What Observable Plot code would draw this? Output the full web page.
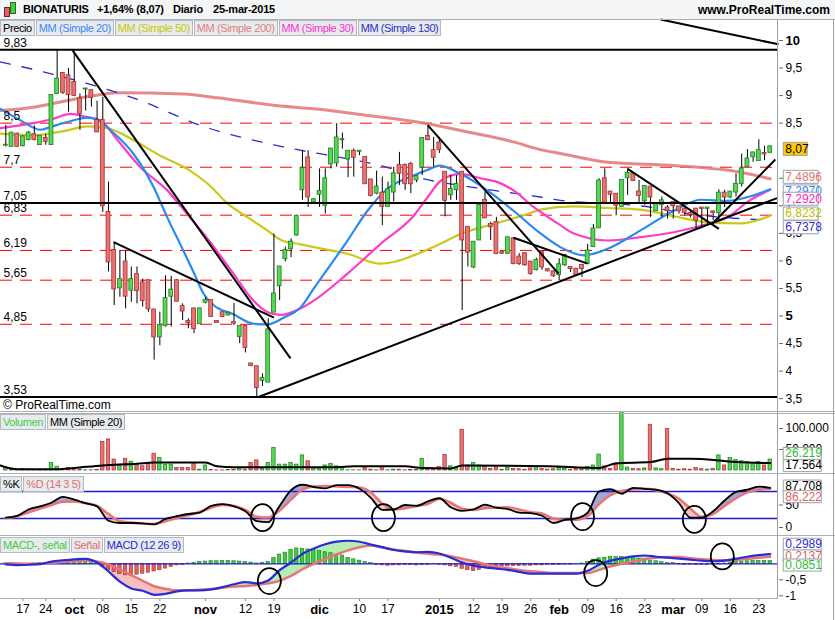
<!DOCTYPE html>
<html><head><meta charset="utf-8">
<script src="https://cdn.jsdelivr.net/npm/d3@7"></script>
<script src="https://cdn.jsdelivr.net/npm/@observablehq/plot@0.6"></script>
<style>
body{margin:0;background:#fff;}
#root{position:relative;width:835px;height:620px;overflow:hidden;background:#fff;font-family:"Liberation Sans",Arial,sans-serif;font-size:12px;color:#000;}
.abs{position:absolute;}
.row{position:absolute;left:0;display:flex;}
.tab{height:14px;line-height:14px;padding:0 2px;background:#e8ebee;border:1px solid #b4bac0;font-size:11px;letter-spacing:-0.4px;white-space:nowrap;margin-right:1px;}
.hl{position:absolute;left:0;width:835px;height:1px;background:#aab0b7;}
.hd{position:absolute;top:3px;font-weight:bold;font-size:11px;letter-spacing:-0.2px;white-space:nowrap;}
</style></head><body><div id="root">
<div class="abs" style="left:0;top:0;width:835px;height:19px;background:#f3f5f7;"></div>
<div class="abs" style="left:4px;top:7px;width:4px;height:8px;background:#e06060;border:1px solid #802020;"></div>
<div class="abs" style="left:10px;top:2px;width:4px;height:10px;background:#44cc44;border:1px solid #207020;"></div>
<div class="hd" style="left:23px;">BIONATURIS</div>
<div class="hd" style="left:97px;">+1,64% (8,07)</div>
<div class="hd" style="left:173px;">Diario</div>
<div class="hd" style="left:213px;">25-mar-2015</div>
<div class="abs" style="right:5px;top:3px;font-weight:bold;font-size:12px;">www.ProRealTime.com</div>
</div>
<script>
// ---------- DATA ----------
const openP  = [8.10,8.08,8.30,8.09,8.20,8.29,8.11,8.22,8.11,9.04, 9.40,9.36,9.24,8.94,9.12,9.09,8.55,8.55,6.88,6.19,
 5.51,5.98,5.47,5.75,5.60,5.64,5.11,4.62,4.83,5.36, 5.64,5.17,4.90,5.13,4.86,5.25,5.28,4.90,5.06,5.02,
 4.88,4.63,4.81,4.13,4.08,3.83,3.80,5.07,5.55,6.04, 6.22,6.47,7.29,7.87,7.07,7.21,7.01,7.76,7.78,8.20,
 7.85,7.99,7.99,7.88,7.47,7.23,7.23,6.99,7.25,7.73, 7.73,7.75,7.47,7.70,8.26,8.00,8.14,7.61,7.20,7.29,
 7.61,6.61,5.89,6.38,7.10,6.66,6.70,6.15,6.14,6.40, 6.07,6.13,5.98,5.84,6.16,5.84,5.80,5.75,5.93,5.88,
 5.85,5.92,5.95,6.26,6.60,7.49,7.25,7.21,6.99,7.51, 7.58,7.25,7.09,7.34,6.91,7.02,6.96,7.06,6.98,6.94,
 6.86,6.94,6.96,6.95,6.89,6.88,7.23,7.16,7.25,7.40, 7.71,7.89,7.82,7.95,7.97];
const highP  = [8.46,8.33,8.32,8.27,8.35,8.45,8.27,8.30,9.00,9.82, 9.42,9.49,9.79,9.03,9.12,9.10,8.90,8.97,7.43,6.34,
 6.19,6.19,5.89,5.89,5.67,5.64,5.11,5.07,5.73,5.72, 5.66,5.22,4.95,5.13,5.13,5.34,5.28,4.91,5.07,5.07,
 5.23,4.81,4.81,4.14,4.08,3.95,4.95,6.49,5.89,6.25, 6.40,6.83,8.00,8.00,7.13,7.67,7.67,8.04,8.49,8.32,
 7.99,8.03,7.99,7.88,7.47,7.63,7.52,7.43,7.70,7.97, 7.76,7.79,7.55,8.22,8.46,8.24,8.24,7.61,7.55,7.55,
 7.61,6.61,6.34,7.01,7.25,6.70,6.79,6.17,6.42,6.42, 6.13,6.15,5.98,6.05,6.16,5.86,5.82,6.04,6.12,5.88,
 5.85,5.92,6.30,6.66,7.49,7.67,7.25,7.21,7.46,7.67, 7.60,7.46,7.35,7.34,7.06,7.16,7.00,7.06,6.98,6.96,
 6.90,6.94,6.96,6.96,6.90,7.29,7.28,7.25,7.58,7.94, 8.02,7.97,8.20,8.08,8.08];
const lowP   = [8.07,8.07,8.07,8.07,8.18,8.18,8.10,8.10,8.10,9.04, 9.02,8.70,8.98,8.37,8.72,8.79,8.33,6.88,5.80,5.19,
 5.34,5.13,5.25,5.22,5.16,5.07,4.20,4.46,4.80,4.80, 5.25,4.92,4.77,4.68,4.86,5.22,4.98,4.87,4.97,5.00,
 4.83,4.50,4.33,4.08,3.53,3.72,3.80,5.07,5.28,5.98, 6.06,6.45,7.10,6.97,7.04,6.97,6.85,7.67,7.70,8.03,
 7.51,7.52,7.91,7.40,7.16,7.20,6.64,6.99,7.07,7.37, 7.28,7.22,7.42,7.55,8.18,7.70,7.95,6.80,7.10,7.10,
 5.10,5.89,5.86,6.38,6.78,6.37,6.13,6.12,6.12,5.93, 5.92,5.90,5.74,5.82,5.83,5.80,5.70,5.64,5.90,5.79,
 5.72,5.70,5.95,6.25,6.60,7.07,7.04,6.82,6.98,7.19, 7.45,7.04,7.01,6.79,6.91,6.79,6.76,6.76,6.85,6.82,
 6.78,6.58,6.62,6.67,6.73,6.73,6.97,7.13,7.16,7.34, 7.70,7.79,7.82,7.82,7.97];
const closeP = [8.10,8.32,8.08,8.25,8.32,8.20,8.26,8.17,9.00,9.30, 9.06,9.02,9.00,8.68,9.12,8.97,8.34,7.00,5.98,5.49,
 5.66,5.36,5.66,5.46,5.28,5.13,4.62,4.83,5.32,5.47, 5.27,5.09,4.88,4.77,5.13,5.28,4.99,4.88,4.99,5.05,
 4.87,4.81,4.43,4.10,3.70,3.87,4.75,5.40,5.89,6.19, 6.34,6.81,7.68,7.16,7.11,7.26,7.49,8.03,8.23,8.20,
 7.99,7.88,7.99,7.40,7.19,7.34,6.99,7.29,7.58,7.59, 7.40,7.40,7.53,8.22,8.20,7.88,8.02,7.10,7.30,7.39,
 6.38,6.16,6.34,7.01,6.78,6.62,6.13,6.14,6.42,5.95, 5.95,5.93,5.77,6.01,5.89,5.82,5.73,5.93,6.10,5.86,
 5.75,5.86,6.18,6.58,7.45,7.07,7.21,7.01,7.46,7.59, 7.46,7.19,7.35,7.16,7.02,7.09,6.91,7.00,6.91,6.88,
 6.84,6.74,6.95,6.96,6.88,7.23,7.16,7.25,7.39,7.67, 7.85,7.96,8.00,7.94,8.07];
// volume in thousands
const volume = [6,1,1,4,1,1,1,0.5,18,9, 1,6,6,2,0.5,0.5,1,68,74,26, 14,28,21,12,10,17,40,30,14,14,
 6,6,6,17,2,12,1,0.3,0.3,1, 2,5,2,18,24,5,18,54,14,14, 18,14,36,22,5,5,12,16,10,6,
 0.5,0.3,0.3,6,2,0.5,9,0.5,2,2, 0.5,1,1,28,4,3,8,37,10,6, 97,12,18,12,8,4,8,2,6,4,
 3,2,5,8,4,2,3,6,4,2, 5,3,8,12,38,10,4,13,145,7, 4,3,5,109,5,3,99,4,2,3,
 2,6,3,2,4,36,12,30,25,22, 20,18,20,12,26.219];
const volMaIdx = [-0.93,2,9,12,17,23,26,35,37,40,58,61,70,73,78,80,95,104,107,113,116,120,125,128,134];
const volMaVal = [12,3,3,6,12,16,19,19,10,8,8,10,10,6,5,12,10,6,17,20,28,28,24,20,17.564];
const volTicks = [50, 100];

const sma20Idx = [-0.93,2.6,6.1,7.8,10.8,14.3,16.1,18.4,22.4,25.9,27.1,28.3,30.6,32.9,34.7,36.4,39.9,43.4,45.9,48.7,51.7,54,59.9,63.4,66.9,71.5,74.4,76,79.7,84.4,89,93.7,97.2,101.3,105.5,111.2,117.1,121.8,126.5,131.1,134];
const sma20Val = [8.76,8.55,8.38,8.43,8.52,8.60,8.56,8.37,7.94,7.34,7.07,6.79,6.30,5.80,5.40,5.20,5.03,4.86,4.85,4.97,5.16,5.50,6.37,6.91,7.31,7.55,7.67,7.73,7.58,7.28,6.91,6.50,6.25,6.10,6.22,6.55,6.91,7.11,7.09,7.19,7.30];
const sma30Idx = [-0.93,4.9,8.4,11.3,14.3,16.6,19.6,23.6,28.3,31.8,35.4,39.9,43.4,45.9,48.2,51.7,54,59.9,65.7,71.5,73.9,76.2,79.7,83.2,86.2,89,92.5,97.2,99.5,105.5,111.2,117.1,123,126.5,130,134];
const sma30Val = [8.41,8.50,8.58,8.67,8.61,8.55,8.19,7.70,7.28,6.85,6.40,5.77,5.28,5.07,5.02,5.14,5.28,5.77,6.31,6.82,7.15,7.45,7.58,7.50,7.43,7.28,6.98,6.65,6.50,6.37,6.43,6.52,6.67,6.79,7.07,7.29];
const sma50Idx = [-0.93,4.9,10.8,14.3,17.8,22.4,27.1,31.8,35.4,38.9,42.4,45.9,48.2,51.7,54,59.9,65.7,68,71.5,76.2,79.7,85.5,91.5,93.7,99.5,105.5,111.2,117.1,123,128.8,134];
const sma50Val = [8.31,8.28,8.37,8.44,8.41,8.19,7.91,7.67,7.40,7.04,6.79,6.55,6.38,6.30,6.25,6.13,5.95,5.98,6.10,6.31,6.49,6.67,6.85,6.93,6.99,6.96,6.93,6.81,6.70,6.68,6.82];
const sma130Idx = [-0.93,7.8,23.6,34.1,48.2,56.9,65.7,73.2,81,85.5,93.7,97.2,106,111.2,120,130,134];
const sma130Val = [9.61,9.40,8.91,8.46,8.08,7.91,7.73,7.49,7.35,7.28,7.16,7.10,7.04,7.00,6.85,6.76,6.74];
const sma200Idx = [-0.93,4.9,10.8,15.4,19.6,31.2,37.1,48.2,54,63.4,73.9,81,89,93.7,97.2,105.5,117.1,128.8,134];
const sma200Val = [8.73,8.79,8.91,9.00,9.05,9.03,8.96,8.81,8.76,8.64,8.49,8.34,8.16,8.02,7.95,7.79,7.73,7.61,7.49];

const blackLevels = [9.83, 7.05, 3.53];
const redLevels = [8.5, 7.7, 6.83, 6.19, 5.65, 4.85];
const trendFromI = [11.7, 18.9, 44.3, 74.0, 89.0, 109.0, 123.8, 114.8];
const trendFromP = [9.82, 6.34, 3.53, 8.46, 6.42, 7.67, 6.67, 10.38];
const trendToI   = [49.9, 47.0, 135.2, 96.9, 102.0, 125.0, 134.9, 135.45];
const trendToP   = [4.23, 4.97, 7.14, 5.77, 5.95, 6.58, 7.84, 9.93];

const priceTicks = [3.5,4,4.5,5,5.5,6,6.5,7,7.5,8.5,9,9.5,10];
const priceTicksBold = [5, 10];
const lastLabels = [8.07, 7.4896, 7.2970, 7.2920, 6.8232, 6.7378];

const oscIdx = [0,2,4,6,8,10,12,14,16,18,20,22,24,26,28,30,32,34,36,38,40,42,44,46,48,50,52,54,56,58,60,62,64,66,68,70,72,74,76,78,80,82,84,86,88,90,92,94,96,98,100,102,104,106,108,110,112,114,116,118,120,122,124,126,128,130,132,134];
const stochK = [22,26,40,47,55,68,62,54,47,15, 10,10,9,7,19,25,30,33,48,52, 47,36,14,12,48,83,95,90,87,94, 94,86,66,39,40,50,48,58,65,45, 37,40,51,44,41,33,32,26,10,17, 20,33,80,85,75,88,86,84,76,54, 22,22,36,60,79,84,91,88];
const stochD = [21,25,34,42,50,57,58,54,48,30, 14,11,9,8,14,21,27,35,44,50, 48,39,24,22,38,62,84,91,92,91, 90,89,78,53,40,43,48,52,64,55, 42,39,43,44,45,40,34,31,20,17, 17,25,52,72,81,85,86,83,76,64, 42,24,30,48,65,78,84,86];
const stochLast = [87.708, 86.222];
const stochLevels = [20, 80];
const stochTicks = [0, 50];
const stochCircI = [45, 66.2, 101.1, 120.7];
const stochCircV = [22, 22, 24, 18];

const macdLine = [-0.02,-0.04,-0.03,-0.01,0.07,0.11,0.14,0.155,0.04,-0.24, -0.56,-0.77,-0.84,-0.97,-0.94,-0.86,-0.83,-0.83,-0.80,-0.73,
 -0.64,-0.57,-0.61,-0.52,-0.20,0.04,0.31,0.48,0.61,0.69, 0.72,0.69,0.60,0.52,0.43,0.39,0.36,0.37,0.32,0.19,
 0.04,-0.06,-0.11,-0.15,-0.19,-0.25,-0.31,-0.31,-0.31,-0.31, -0.31,-0.22,-0.03,0.10,0.17,0.23,0.26,0.22,0.19,0.16,
 0.13,0.10,0.08,0.10,0.16,0.22,0.27,0.30];
const macdSignal = [0.02,0.01,0.0,0.0,0.03,0.06,0.09,0.11,0.07,-0.02, -0.18,-0.35,-0.53,-0.70,-0.78,-0.83,-0.83,-0.81,-0.79,-0.75,
 -0.71,-0.69,-0.66,-0.61,-0.53,-0.38,-0.17,0.0,0.15,0.29, 0.42,0.52,0.57,0.51,0.45,0.40,0.35,0.31,0.29,0.24,
 0.16,0.08,-0.01,-0.09,-0.14,-0.19,-0.23,-0.26,-0.29,-0.29, -0.29,-0.29,-0.19,-0.08,0.0,0.07,0.14,0.19,0.21,0.21,
 0.17,0.14,0.12,0.11,0.12,0.15,0.19,0.22];
const macdHist = [0.01,0.0,-0.01,0.0,0.0,0.01,0.02,0.03, 0.06,0.08,0.09,0.1,0.1,0.09,0.07,0.05, 0.01,
 -0.1,-0.2,-0.26,-0.32,-0.36,-0.37,-0.34,-0.31,-0.28,-0.24,-0.2,-0.15,-0.1,-0.05,-0.03,
 0.01,0.03, 0.06,0.07,0.08,0.08,0.09,0.09,0.08,0.07,0.06,0.04, 0.01,0.02,
 0.06,0.18,0.29,0.35,0.43,0.48,0.47,0.45,0.43,0.4,0.36,0.33,0.29,0.26,0.18,0.14,0.1, 0.05,0.02,
 -0.04,-0.05,-0.06,-0.05,-0.05,-0.04,-0.04,-0.05,-0.04,-0.03, -0.01,-0.03,
 -0.05,-0.08,-0.1,-0.16,-0.2,-0.23,-0.19,-0.13,-0.1,-0.09,-0.08,-0.08,-0.07,-0.07,-0.06,-0.06,-0.05,-0.05,-0.04,-0.04,-0.03,
 -0.02,-0.02,-0.01,0.01,0.05,
 0.13,0.17,0.19,0.21,0.21,0.21,0.2,0.18,0.16,0.13,0.1,0.08,0.05,0.03,0.02,
 -0.02,-0.03,-0.03,-0.04,-0.03,-0.03,-0.02,-0.02, 0.01,
 0.04,0.06,0.07,0.08,0.09,0.09,0.09,0.085];
const macdLast = [0.2989, 0.2137, 0.0851];
const macdTicks = [-1, -0.5];
const macdCircI = [46.2, 103.4, 125.6];
const macdCircV = [-0.54, -0.29, 0.23];

const xTickIdx = [3,7,12,17,22,27,35,42,47,55,62,67,76,82,87,92,97,102,107,112,117,122,127,132];
const xTickLab = ["17","24","oct","08","15","22","nov","12","19","dic","10","17","2015","12","19","26","feb","09","16","23","mar","09","16","23"];
const boldLabels = ["oct","nov","dic","2015","feb","mar"];

// ---------- HELPERS ----------
const root = document.getElementById("root");
const XD = [-0.93, 135.45];
const FONT = "Liberation Sans, Arial, sans-serif";
const baseStyle = {background: "transparent", fontFamily: FONT, fontSize: "12px", overflow: "visible", color: "#000"};
const comma = (v, n) => (n == null ? String(v) : v.toFixed(n)).replace(".", ",");
const dotted = v => d3.format(",")(Math.round(v * 1000)).replace(/,/g, ".");
const pts = (I, V) => I.map((i, k) => ({i, v: V[k]}));
const boxSym = (w, h) => ({draw(ctx) { ctx.rect(0, -h / 2, w, h); }});
const ellSym = (rx, ry) => ({draw(ctx) {
  const k = 0.5523;
  ctx.moveTo(rx, 0);
  ctx.bezierCurveTo(rx, ry * k, rx * k, ry, 0, ry);
  ctx.bezierCurveTo(-rx * k, ry, -rx, ry * k, -rx, 0);
  ctx.bezierCurveTo(-rx, -ry * k, -rx * k, -ry, 0, -ry);
  ctx.bezierCurveTo(rx * k, -ry, rx, -ry * k, rx, 0);
  ctx.closePath();
}});
const lastI = closeP.length - 1;
function place(el, top) { const d = document.createElement("div"); d.className = "abs"; d.style.left = "0px"; d.style.top = top + "px"; d.appendChild(el); root.appendChild(d); }
function labelBox(value, dy, w, fill, color, text, h = 13) {
  const d = [{i: lastI, v: value}];
  return [
    Plot.dot(d, {x: "i", y: "v", symbol: boxSym(w, h), r: 1, fill, stroke: "#9aa1a8", strokeWidth: 1, dx: 13, dy}),
    Plot.text(d, {x: "i", y: "v", text: () => text, dx: 15, dy, textAnchor: "start", fill: color, fontSize: 12})
  ];
}

const candles = openP.map((o, k) => ({i: k, o, h: highP[k], l: lowP[k], c: closeP[k], up: closeP[k] >= o}));

// ---------- PRICE ----------
const price = Plot.plot({
  width: 835, height: 393, marginTop: 0, marginBottom: 0, marginLeft: 0, marginRight: 57,
  x: {domain: XD, axis: null}, y: {domain: [3.249, 10.381], axis: null},
  color: {type: "identity"}, style: baseStyle,
  marks: [
    Plot.ruleY(redLevels, {stroke: "#ff0000", strokeWidth: 1, strokeDasharray: "12,8"}),
    Plot.line(pts(sma200Idx, sma200Val), {x: "i", y: "v", stroke: "#e07474", strokeWidth: 3, strokeOpacity: 0.85, curve: "monotone-x"}),
    Plot.line(pts(sma130Idx, sma130Val), {x: "i", y: "v", stroke: "#2e2ec8", strokeWidth: 1.3, strokeDasharray: "10,12", curve: "monotone-x"}),
    Plot.line(pts(sma50Idx, sma50Val), {x: "i", y: "v", stroke: "#c9c91a", strokeWidth: 2.2, curve: "monotone-x"}),
    Plot.line(pts(sma30Idx, sma30Val), {x: "i", y: "v", stroke: "#ff3cc8", strokeWidth: 2.2, curve: "monotone-x"}),
    Plot.line(pts(sma20Idx, sma20Val), {x: "i", y: "v", stroke: "#2a8af0", strokeWidth: 2.2, curve: "monotone-x"}),
    Plot.ruleX(candles, {x: "i", y1: "l", y2: "h", stroke: "#000", strokeWidth: 1}),
    Plot.rect(candles, {x1: d => d.i - 0.34, x2: d => d.i + 0.34, y1: "o", y2: "c", insetTop: -0.5, insetBottom: -0.5,
      fill: d => d.up ? "#55d955" : "#ea7272", stroke: d => d.up ? "#1f7a1f" : "#a33030", strokeWidth: 0.8}),
    Plot.ruleY(blackLevels, {stroke: "#000", strokeWidth: 2}),
    Plot.link(trendFromI.map((a, k) => ({a, b: trendFromP[k], c: trendToI[k], d: trendToP[k]})),
      {x1: "a", y1: "b", x2: "c", y2: "d", stroke: "#000", strokeWidth: 2}),
    Plot.text([...blackLevels, ...redLevels], {x: () => XD[0], y: d => d, text: d => comma(d), dx: 3, dy: -7, textAnchor: "start", fill: "#000", fontSize: 12}),
    Plot.axisY({anchor: "right", ticks: priceTicks.filter(t => !priceTicksBold.includes(t)), tickFormat: d => comma(d), tickSize: 4, tickPadding: 3, fontSize: 12, label: null, stroke: "#666"}),
    Plot.axisY({anchor: "right", ticks: priceTicksBold, tickFormat: d => comma(d), tickSize: 4, tickPadding: 3, fontSize: 13, fontWeight: "bold", label: null, stroke: "#666"}),
    ...labelBox(lastLabels[0], 2, 24, "#ffc800", "#000", comma(lastLabels[0])),
    ...labelBox(lastLabels[1], -2, 35, "#fff", "#e07474", comma(lastLabels[1], 4)),
    ...labelBox(lastLabels[2], 2, 35, "#fff", "#2a8af0", comma(lastLabels[2], 4)),
    ...labelBox(lastLabels[3], 9, 35, "#fff", "#ff20c0", comma(lastLabels[3], 4)),
    ...labelBox(lastLabels[4], -2, 35, "#fff", "#c0c000", comma(lastLabels[4], 4)),
    ...labelBox(lastLabels[5], 7, 35, "#fff", "#2e2ec8", comma(lastLabels[5], 4))
  ]
});
place(price, 19);

// ---------- VOLUME ----------
const vols = volume.map((v, k) => ({i: k, v, up: candles[k].up}));
const volPlot = Plot.plot({
  width: 835, height: 62, marginTop: 0, marginBottom: 0, marginLeft: 0, marginRight: 57,
  x: {domain: XD, axis: null}, y: {domain: [-9.52, 138.1], axis: null},
  color: {type: "identity"}, style: baseStyle,
  marks: [
    Plot.rect(vols, {x1: d => d.i - 0.3, x2: d => d.i + 0.3, y1: 0, y2: "v", clip: true,
      fill: d => d.up ? "#55d955" : "#ea7272", stroke: d => d.up ? "#1f7a1f" : "#a33030", strokeWidth: 0.7}),
    Plot.line(pts(volMaIdx, volMaVal), {x: "i", y: "v", stroke: "#000", strokeWidth: 2, curve: "monotone-x"}),
    Plot.axisY({anchor: "right", ticks: volTicks, tickFormat: d => dotted(d), tickSize: 4, tickPadding: 3, fontSize: 12, label: null, stroke: "#666"}),
    ...labelBox(volume[lastI], -6, 38, "#fff", "#33bb33", dotted(volume[lastI]), 12),
    ...labelBox(volMaVal[volMaVal.length - 1], 2.5, 38, "#fff", "#000", dotted(volMaVal[volMaVal.length - 1]), 12)
  ]
});
place(volPlot, 412);

// ---------- STOCHASTIC ----------
const st = oscIdx.map((i, k) => ({i, k: stochK[k], d: stochD[k]}));
const stPlot = Plot.plot({
  width: 835, height: 61, marginTop: 0, marginBottom: 0, marginLeft: 0, marginRight: 57,
  x: {domain: XD, axis: null}, y: {domain: [-17.8, 117.8], axis: null},
  color: {type: "identity"}, style: baseStyle,
  marks: [
    Plot.areaY(st, {x: "i", y1: "d", y2: r => Math.max(r.k, r.d), fill: "#a4a5d6", curve: "monotone-x"}),
    Plot.areaY(st, {x: "i", y1: "k", y2: r => Math.max(r.k, r.d), fill: "#f6c2c2", curve: "monotone-x"}),
    Plot.ruleY(stochLevels, {stroke: "#1c1cc8", strokeWidth: 1.3}),
    Plot.line(st, {x: "i", y: "d", stroke: "#e67676", strokeWidth: 2.5, curve: "monotone-x"}),
    Plot.line(st, {x: "i", y: "k", stroke: "#000", strokeWidth: 1.8, curve: "monotone-x"}),
    Plot.dot(pts(stochCircI, stochCircV), {x: "i", y: "v", symbol: ellSym(11.5, 13.5), r: 1, fill: "none", stroke: "#000", strokeWidth: 1.8}),
    Plot.axisY({anchor: "right", ticks: stochTicks, tickSize: 4, tickPadding: 3, fontSize: 12, label: null, stroke: "#666"}),
    ...labelBox(stochLast[0], -2, 38, "#fff", "#000", comma(stochLast[0], 3), 12),
    ...labelBox(stochLast[1], 8, 38, "#fff", "#e06060", comma(stochLast[1], 3), 12)
  ]
});
place(stPlot, 474);

// ---------- MACD ----------
const mc = oscIdx.map((i, k) => ({i, m: macdLine[k], s: macdSignal[k]}));
const hist = macdHist.map((h, k) => ({i: k, h}));
const labMap = new Map(xTickIdx.map((t, k) => [t, xTickLab[k]]));
const macdPlot = Plot.plot({
  width: 835, height: 85, marginTop: 0, marginBottom: 22, marginLeft: 0, marginRight: 57,
  x: {domain: XD, axis: null}, y: {domain: [-1.084, 0.884], axis: null},
  color: {type: "identity"}, style: baseStyle,
  marks: [
    Plot.areaY(mc, {x: "i", y1: "s", y2: r => Math.max(r.m, r.s), fill: "#b4eeb4", curve: "monotone-x"}),
    Plot.areaY(mc, {x: "i", y1: "m", y2: r => Math.max(r.m, r.s), fill: "#f6c0c0", curve: "monotone-x"}),
    Plot.rect(hist, {x1: d => d.i - 0.3, x2: d => d.i + 0.3, y1: 0, y2: "h",
      fill: d => d.h >= 0 ? "#3ccc3c" : "#e05e5e", stroke: d => d.h >= 0 ? "#1c7c1c" : "#a03030", strokeWidth: 0.6}),
    Plot.ruleY([0], {stroke: "#1c1cc8", strokeWidth: 1.3}),
    Plot.line(mc, {x: "i", y: "s", stroke: "#e67676", strokeWidth: 2.5, curve: "monotone-x"}),
    Plot.line(mc, {x: "i", y: "m", stroke: "#2a2ad8", strokeWidth: 2.2, curve: "monotone-x"}),
    Plot.dot(pts(macdCircI, macdCircV), {x: "i", y: "v", symbol: ellSym(11.5, 13), r: 1, fill: "none", stroke: "#000", strokeWidth: 1.8}),
    Plot.axisY({anchor: "right", ticks: macdTicks, tickFormat: d => comma(d), tickSize: 4, tickPadding: 3, fontSize: 12, label: null, stroke: "#666"}),
    ...labelBox(macdLast[0], -10, 38, "#fff", "#2a2ad8", comma(macdLast[0], 4), 12),
    ...labelBox(macdLast[1], -1, 38, "#fff", "#e06060", comma(macdLast[1], 4), 12),
    ...labelBox(macdLast[2], 4, 38, "#fff", "#33bb33", comma(macdLast[2], 4), 12),
    Plot.axisX({anchor: "bottom", ticks: xTickIdx.filter(t => !boldLabels.includes(labMap.get(t))), tickFormat: t => labMap.get(t), tickSize: 3, tickPadding: 3, fontSize: 12, label: null, stroke: "#888"}),
    Plot.axisX({anchor: "bottom", ticks: xTickIdx.filter(t => boldLabels.includes(labMap.get(t))), tickFormat: t => labMap.get(t), tickSize: 3, tickPadding: 3, fontSize: 13, fontWeight: "bold", label: null, stroke: "#888"})
  ]
});
place(macdPlot, 535);

// ---------- FRAME / LEGENDS ----------
function hline(top, w) { const d = document.createElement("div"); d.className = "hl"; d.style.top = top + "px"; if (w) d.style.width = w + "px"; root.appendChild(d); }
function vline(left, top, h) { const d = document.createElement("div"); d.className = "abs"; Object.assign(d.style, {left: left + "px", top: top + "px", width: "1px", height: h + "px", background: "#9aa1a8"}); root.appendChild(d); }
hline(19); hline(411); hline(413); hline(473); hline(535); hline(598, 778);
vline(777, 19, 579); vline(833, 19, 601);
function row(top, items) {
  const r = document.createElement("div"); r.className = "row"; r.style.top = top + "px";
  items.forEach(([t, c]) => { const s = document.createElement("span"); s.className = "tab"; s.textContent = t; s.style.color = c; r.appendChild(s); });
  root.appendChild(r);
}
row(20, [["Precio", "#000"], ["MM (Simple 20)", "#3a86ff"], ["MM (Simple 50)", "#c8c800"], ["MM (Simple 200)", "#e08080"], ["MM (Simple 30)", "#ff30d0"], ["MM (Simple 130)", "#2e2ec8"]]);
row(414, [["Volumen", "#44cc44"], ["MM (Simple 20)", "#000"]]);
row(476, [["%K", "#000"], ["%D (14 3 5)", "#e07070"]]);
row(537, [["MACD-, señal", "#44cc44"], ["Señal", "#e07070"], ["MACD (12 26 9)", "#2a2ad8"]]);
const cp = document.createElement("div"); cp.className = "abs"; Object.assign(cp.style, {left: "3px", top: "398px", fontSize: "12px"}); cp.textContent = "© ProRealTime.com"; root.appendChild(cp);
</script></body></html>
